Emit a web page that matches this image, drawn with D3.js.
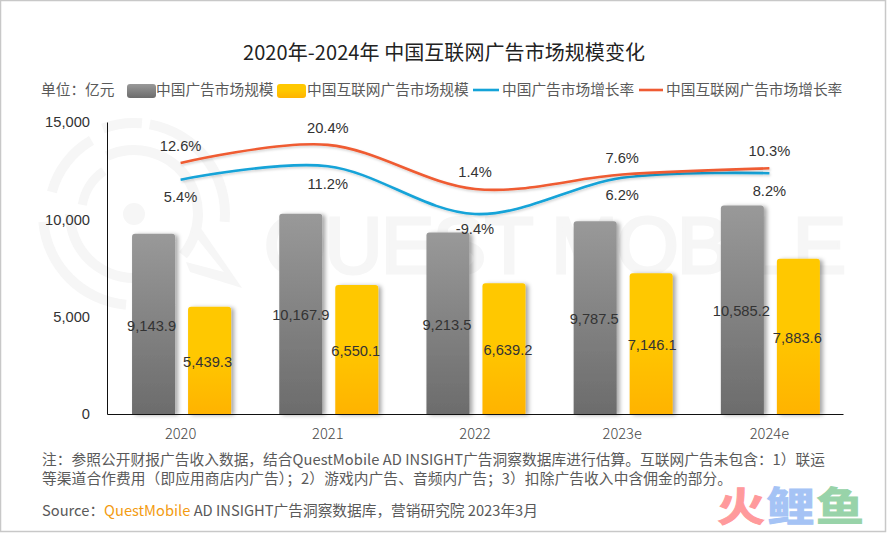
<!DOCTYPE html>
<html>
<head>
<meta charset="utf-8">
<script src="https://cdn.jsdelivr.net/npm/d3@7"></script>
<style>
html, body { margin: 0; padding: 0; background: #fff; }
svg { display: block; }
text { font-family: "Noto Sans CJK SC", "Noto Sans", sans-serif; }
.num { font-family: "Liberation Sans", Arial, sans-serif; font-size: 14.7px; fill: #333; }
.muted { font-size: 14.7px; fill: #5a5a5a; }
</style>
</head>
<body>
<svg id="chart" width="887" height="533"></svg>
<script>
var categories = ['2020', '2021', '2022', '2023e', '2024e'];
var seriesNames = ['中国广告市场规模', '中国互联网广告市场规模', '中国广告市场增长率', '中国互联网广告市场增长率'];
var adMarket = [9143.9, 10167.9, 9213.5, 9787.5, 10585.2];
var netMarket = [5439.3, 6550.1, 6639.2, 7146.1, 7883.6];
var adGrowth = [5.4, 11.2, -9.4, 6.2, 8.2];
var netGrowth = [12.6, 20.4, 1.4, 7.6, 10.3];
var axisTicks = [0, 5000, 10000, 15000];

var svg = d3.select('#chart');
var defs = svg.append('defs');

function gradient(id, top, hold, bottom) {
    var g = defs.append('linearGradient').attr('id', id)
        .attr('x1', 0).attr('y1', 0).attr('x2', 0).attr('y2', 1);
    g.append('stop').attr('offset', 0).attr('stop-color', top);
    g.append('stop').attr('offset', hold).attr('stop-color', top);
    g.append('stop').attr('offset', 1).attr('stop-color', bottom);
}
gradient('grayFill', '#999999', 0, '#6c6c6c');
gradient('yellowFill', '#ffc800', 0.45, '#ffb300');

var barShadow = defs.append('filter').attr('id', 'barShadow')
    .attr('x', '-20%').attr('y', '-10%').attr('width', '150%').attr('height', '120%');
barShadow.append('feDropShadow').attr('dx', 3).attr('dy', 1).attr('stdDeviation', 2)
    .attr('flood-color', '#000').attr('flood-opacity', 0.35);
var lineShadow = defs.append('filter').attr('id', 'lineShadow')
    .attr('x', '-5%').attr('y', '-30%').attr('width', '110%').attr('height', '160%');
lineShadow.append('feDropShadow').attr('dx', 1).attr('dy', 1.5).attr('stdDeviation', 1)
    .attr('flood-color', '#000').attr('flood-opacity', 0.18);

// frame
svg.append('rect').attr('x', 0.5).attr('y', 0.5).attr('width', 885).attr('height', 531)
    .attr('fill', '#fff').attr('stroke', '#c8c8c8').attr('stroke-width', 1.5);

// watermark
var wm = svg.append('g').attr('fill', '#f6f6f6');
wm.append('circle').attr('cx', 134).attr('cy', 214).attr('r', 11);
var ring = d3.arc();
function wmArc(inner, outer, a0, a1) {
    wm.append('path').attr('transform', 'translate(134,214)')
        .attr('d', ring({innerRadius: inner, outerRadius: outer, startAngle: a0 * Math.PI / 180, endAngle: a1 * Math.PI / 180}));
}
wmArc(59, 69, -25, 130);
wmArc(59, 69, 180, 270);
wmArc(48, 57, 280, 325);
wmArc(86, 96, 340, 365);
wmArc(86, 96, 10, 95);
wmArc(86, 96, 185, 265);
wmArc(80, 90, 285, 330);
wm.append('path').attr('d', 'M200,227L242,288L190,272L186,262L224,272L192,232Z');
wm.append('text').attr('x', 264).attr('y', 273).attr('textLength', 582).attr('lengthAdjust', 'spacing')
    .attr('stroke', '#f6f6f6').attr('stroke-width', 3)
    .style('font-family', '"Liberation Sans", Arial, sans-serif').style('font-size', '80px')
    .text('QUEST MOBILE');

// scales
var x = d3.scaleBand().domain(categories).range([107, 843]);
var x1 = d3.scaleBand().domain(seriesNames.slice(0, 2)).range([0, x.bandwidth()])
    .paddingInner(0.232).paddingOuter(0.43).align(0.52);
var yBar = d3.scaleLinear().domain([0, 15000]).range([414, 118.5]);
var yAxis = d3.scaleLinear().domain([0, 15000]).range([414, 122]);
var yRate = d3.scaleLinear().domain([-10, 25]).range([215.4, 134.2]);

function barPath(left, top, width, bottom) {
    var r = 3;
    return 'M' + left + ',' + bottom + 'V' + (top + r) + 'Q' + left + ',' + top + ' ' + (left + r) + ',' + top +
        'H' + (left + width - r) + 'Q' + (left + width) + ',' + top + ' ' + (left + width) + ',' + (top + r) +
        'V' + bottom + 'Z';
}

// bars
function drawBars(values, name, fill) {
    var g = svg.append('g');
    g.selectAll('path').data(values).enter().append('path')
        .attr('d', function (d, i) {
            return barPath(x(categories[i]) + x1(name), yBar(d), x1.bandwidth(), yBar(0));
        })
        .attr('fill', fill)
        .attr('filter', 'url(#barShadow)');
}
drawBars(adMarket, seriesNames[0], 'url(#grayFill)');
drawBars(netMarket, seriesNames[1], 'url(#yellowFill)');

// axes
var fmt = d3.format(',');
var left = svg.append('g').attr('transform', 'translate(107,0)')
    .call(d3.axisLeft(yAxis).tickValues(axisTicks).tickSize(0).tickPadding(17).tickFormat(fmt));
left.select('.domain').attr('stroke', '#111');
left.selectAll('text').attr('class', 'num').style('font-size', '14.7px');
var bottom = svg.append('g').attr('transform', 'translate(0,414)')
    .call(d3.axisBottom(x).tickSize(0).tickPadding(15));
bottom.select('.domain').attr('stroke', '#111');
bottom.selectAll('text').style('font-size', '14.7px').style('font-family', '"Noto Sans CJK SC"').style('font-weight', 300).attr('fill', '#4a4a4a');

// lines
var line = d3.line()
    .x(function (d, i) { return x(categories[i]) + x.bandwidth() / 2; })
    .y(function (d) { return yRate(d); })
    .curve(d3.curveCatmullRom.alpha(0));
function drawLine(values, color) {
    svg.append('path').datum(values).attr('d', line)
        .attr('fill', 'none').attr('stroke', color).attr('stroke-width', 2.6)
        .attr('filter', 'url(#lineShadow)');
}
drawLine(adGrowth, '#14a3d8');
drawLine(netGrowth, '#ef5b33');

// data labels
var oneDecimal = d3.format(',.1f');
function barLabels(values, name, nudge) {
    svg.append('g').selectAll('text').data(values).enter().append('text')
        .attr('class', 'num').attr('text-anchor', 'middle').attr('dy', '0.35em')
        .attr('x', function (d, i) { return x(categories[i]) + x1(name) + x1.bandwidth() / 2 + nudge[i]; })
        .attr('y', function (d) { return (yBar(d) + yBar(0)) / 2 + 1.5; })
        .text(oneDecimal);
}
barLabels(adMarket, seriesNames[0], [-2, 0, -1, -1, -1]);
barLabels(netMarket, seriesNames[1], [-2, -1, 4, 1, -1]);

function rateLabels(values, offset, nudge) {
    svg.append('g').selectAll('text').data(values).enter().append('text')
        .attr('class', 'num').attr('text-anchor', 'middle').attr('dy', '0.35em')
        .attr('x', function (d, i) { return x(categories[i]) + x.bandwidth() / 2; })
        .attr('y', function (d, i) { return yRate(d) + offset + nudge[i]; })
        .text(function (d) { return d.toFixed(1) + '%'; });
}
rateLabels(netGrowth, -17, [0, 0, 0, 0, 0]);
rateLabels(adGrowth, 18, [-1, 0, -3, -1, 0]);

// title
svg.append('text').attr('x', 444).attr('y', 60).attr('text-anchor', 'middle')
    .attr('textLength', 402).attr('fill', '#222').style('font-size', '20px')
    .text('2020年-2024年 中国互联网广告市场规模变化');

// legend
function legendText(tx, str) {
    svg.append('text').attr('class', 'muted').attr('x', tx).attr('y', 95).text(str);
}
legendText(41, '单位：亿元');
svg.append('rect').attr('x', 127).attr('y', 84).attr('width', 29).attr('height', 14).attr('rx', 3).attr('fill', 'url(#grayFill)');
legendText(156, seriesNames[0]);
svg.append('rect').attr('x', 277).attr('y', 84).attr('width', 29).attr('height', 14).attr('rx', 3).attr('fill', 'url(#yellowFill)');
legendText(307, seriesNames[1]);
svg.append('line').attr('x1', 473).attr('x2', 499).attr('y1', 90).attr('y2', 90).attr('stroke', '#14a3d8').attr('stroke-width', 2.6);
legendText(502, seriesNames[2]);
svg.append('line').attr('x1', 639).attr('x2', 663).attr('y1', 90).attr('y2', 90).attr('stroke', '#ef5b33').attr('stroke-width', 2.6);
legendText(666, seriesNames[3]);

// notes
var noteLines = ['注：参照公开财报广告收入数据，结合QuestMobile AD INSIGHT广告洞察数据库进行估算。互联网广告未包含：1）联运',
    '等渠道合作费用（即应用商店内广告）；2）游戏内广告、音频内广告；3）扣除广告收入中含佣金的部分。'];
svg.append('text').attr('class', 'muted').attr('x', 42).attr('y', 465).attr('textLength', 783).text(noteLines[0]);
svg.append('text').attr('class', 'muted').attr('x', 42).attr('y', 484).attr('textLength', 690).text(noteLines[1]);
var source = svg.append('text').attr('class', 'muted').attr('x', 42).attr('y', 516);
source.append('tspan').text('Source：');
source.append('tspan').style('fill', '#f39c12').text('QuestMobile');
source.append('tspan').text(' AD INSIGHT广告洞察数据库，营销研究院 2023年3月');

// corner logo
var logoChars = ['火', '鲤', '鱼'];
var logoColors = ['#ff9a9c', '#a5c3f5', '#98d3a9'];
svg.append('g').selectAll('text').data(logoChars).enter().append('text')
    .attr('transform', function (d, i) { return 'translate(' + (717 + i * 49.5) + ',521) scale(1.2,1)'; })
    .attr('fill', function (d, i) { return logoColors[i]; })
    .attr('stroke', function (d, i) { return logoColors[i]; })
    .attr('stroke-width', 1)
    .style('font-size', '40px').style('font-weight', 700)
    .text(function (d) { return d; });
</script>
</body>
</html>
